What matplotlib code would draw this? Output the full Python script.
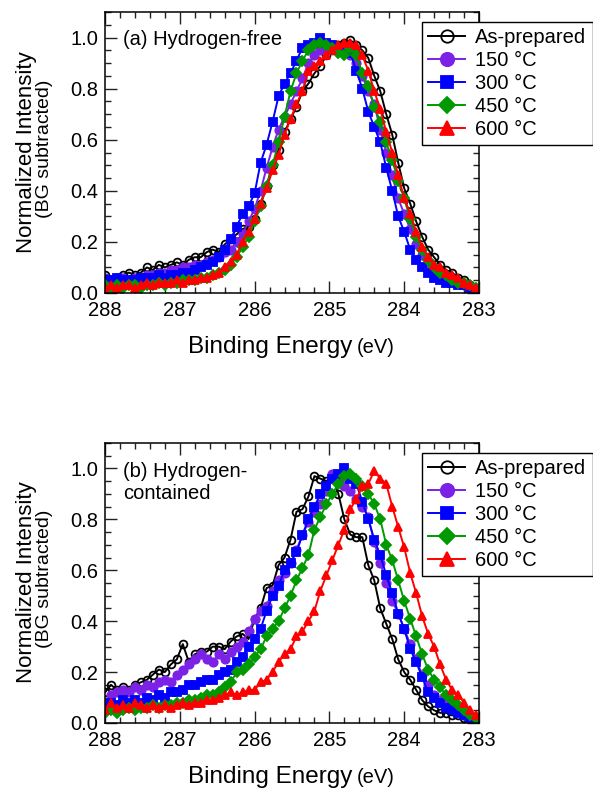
import numpy as np
import matplotlib
matplotlib.use('Agg')
import matplotlib.pyplot as plt
from matplotlib.ticker import MultipleLocator

plt.rcParams['font.family'] = ['Liberation Sans', 'DejaVu Sans']

# ---------------- data ----------------
energy = np.round(np.arange(288.0, 283.0, -0.08), 2)   # binding energy grid (eV), 63 points

labels = ['As-prepared', '150 °C', '300 °C', '450 °C', '600 °C']

# (a) Hydrogen-free
a_asprep = [0.07, 0.05, 0.06, 0.07, 0.08, 0.07, 0.08, 0.10, 0.09, 0.11,
            0.10, 0.11, 0.12, 0.11, 0.13, 0.14, 0.14, 0.16, 0.17, 0.16,
            0.19, 0.21, 0.23, 0.25, 0.26, 0.29, 0.35, 0.42, 0.50, 0.56,
            0.63, 0.68, 0.73, 0.79, 0.82, 0.86, 0.89, 0.93, 0.95, 0.97,
            0.98, 0.99, 0.97, 0.95, 0.92, 0.85, 0.79, 0.70, 0.62, 0.51,
            0.41, 0.35, 0.28, 0.22, 0.17, 0.14, 0.11, 0.09, 0.08, 0.06,
            0.05, 0.03, 0.02]
a_150 = [0.06, 0.05, 0.05, 0.06, 0.05, 0.06, 0.06, 0.07, 0.07, 0.08,
         0.08, 0.09, 0.09, 0.10, 0.10, 0.11, 0.11, 0.12, 0.13, 0.14,
         0.16, 0.17, 0.20, 0.23, 0.28, 0.33, 0.40, 0.49, 0.57, 0.64,
         0.69, 0.74, 0.79, 0.84, 0.90, 0.93, 0.95, 0.96, 0.97, 0.96,
         0.95, 0.93, 0.90, 0.85, 0.79, 0.74, 0.64, 0.55, 0.46, 0.37,
         0.31, 0.25, 0.19, 0.15, 0.11, 0.08, 0.07, 0.06, 0.05, 0.04,
         0.03, 0.02, 0.01]
a_300 = [0.05, 0.05, 0.06, 0.05, 0.05, 0.05, 0.06, 0.06, 0.06, 0.07,
         0.06, 0.07, 0.07, 0.08, 0.08, 0.09, 0.10, 0.11, 0.12, 0.14,
         0.17, 0.21, 0.26, 0.31, 0.34, 0.39, 0.51, 0.58, 0.67, 0.77,
         0.82, 0.86, 0.91, 0.96, 0.97, 0.98, 1.00, 0.98, 0.97, 0.96,
         0.95, 0.94, 0.87, 0.80, 0.71, 0.65, 0.59, 0.49, 0.40, 0.30,
         0.24, 0.17, 0.13, 0.10, 0.08, 0.06, 0.05, 0.04, 0.04, 0.03,
         0.03, 0.02, 0.01]
a_450 = [0.03, 0.02, 0.03, 0.02, 0.03, 0.03, 0.02, 0.03, 0.03, 0.04,
         0.03, 0.04, 0.04, 0.05, 0.05, 0.05, 0.06, 0.06, 0.07, 0.08,
         0.09, 0.11, 0.14, 0.18, 0.22, 0.28, 0.34, 0.42, 0.50, 0.59,
         0.69, 0.79, 0.86, 0.91, 0.95, 0.97, 0.98, 0.97, 0.96, 0.94,
         0.93, 0.96, 0.93, 0.86, 0.81, 0.73, 0.67, 0.59, 0.52, 0.44,
         0.37, 0.29, 0.22, 0.17, 0.13, 0.10, 0.08, 0.07, 0.05, 0.04,
         0.04, 0.03, 0.02]
a_600 = [0.02, 0.03, 0.02, 0.03, 0.03, 0.02, 0.03, 0.04, 0.03, 0.04,
         0.04, 0.04, 0.05, 0.04, 0.05, 0.05, 0.06, 0.06, 0.07, 0.08,
         0.10, 0.12, 0.15, 0.20, 0.24, 0.29, 0.35, 0.41, 0.48, 0.54,
         0.62, 0.68, 0.74, 0.79, 0.87, 0.89, 0.91, 0.93, 0.95, 0.97,
         0.98, 0.98, 0.97, 0.93, 0.87, 0.79, 0.72, 0.63, 0.55, 0.46,
         0.37, 0.31, 0.24, 0.18, 0.14, 0.11, 0.10, 0.08, 0.07, 0.06,
         0.04, 0.03, 0.02]

# (b) Hydrogen-contained
b_asprep = [0.12, 0.15, 0.13, 0.14, 0.13, 0.15, 0.16, 0.17, 0.19, 0.21,
            0.20, 0.23, 0.25, 0.31, 0.24, 0.27, 0.28, 0.28, 0.30, 0.30,
            0.29, 0.32, 0.34, 0.35, 0.33, 0.41, 0.45, 0.53, 0.54, 0.62,
            0.65, 0.72, 0.83, 0.84, 0.89, 0.97, 0.96, 0.95, 0.97, 0.90,
            0.80, 0.74, 0.73, 0.73, 0.62, 0.56, 0.45, 0.39, 0.33, 0.25,
            0.20, 0.17, 0.13, 0.09, 0.065, 0.05, 0.04, 0.04, 0.03, 0.03,
            0.02, 0.02, 0.02]
b_150 = [0.08, 0.11, 0.12, 0.13, 0.12, 0.14, 0.13, 0.15, 0.14, 0.16,
         0.17, 0.16, 0.19, 0.21, 0.23, 0.25, 0.27, 0.25, 0.24, 0.27,
         0.25, 0.28, 0.30, 0.32, 0.36, 0.41, 0.44, 0.46, 0.52, 0.56,
         0.59, 0.63, 0.68, 0.74, 0.79, 0.83, 0.86, 0.91, 0.98, 0.95,
         0.93, 0.91, 0.88, 0.85, 0.81, 0.71, 0.63, 0.55, 0.48, 0.43,
         0.37, 0.31, 0.25, 0.19, 0.15, 0.11, 0.09, 0.07, 0.06, 0.05,
         0.03, 0.02, 0.01]
b_300 = [0.06, 0.08, 0.07, 0.09, 0.08, 0.09, 0.08, 0.10, 0.09, 0.11,
         0.10, 0.12, 0.12, 0.13, 0.15, 0.15, 0.16, 0.17, 0.17, 0.19,
         0.20, 0.21, 0.24, 0.26, 0.30, 0.33, 0.37, 0.44, 0.50, 0.54,
         0.60, 0.63, 0.67, 0.74, 0.80, 0.85, 0.90, 0.93, 0.96, 0.98,
         1.00, 0.96, 0.94, 0.87, 0.80, 0.72, 0.66, 0.58, 0.51, 0.43,
         0.37, 0.29, 0.24, 0.18, 0.12, 0.10, 0.08, 0.06, 0.05, 0.04,
         0.03, 0.02, 0.01]
b_450 = [0.04, 0.05, 0.04, 0.05, 0.06, 0.05, 0.06, 0.06, 0.07, 0.06,
         0.07, 0.07, 0.08, 0.08, 0.09, 0.09, 0.10, 0.11, 0.11, 0.12,
         0.14, 0.16, 0.20, 0.21, 0.23, 0.26, 0.29, 0.34, 0.37, 0.40,
         0.45, 0.50, 0.56, 0.61, 0.66, 0.76, 0.81, 0.86, 0.90, 0.94,
         0.97, 0.98, 0.96, 0.93, 0.90, 0.86, 0.80, 0.70, 0.64, 0.56,
         0.48, 0.41, 0.34, 0.27, 0.21, 0.17, 0.14, 0.11, 0.09, 0.07,
         0.05, 0.03, 0.02]
b_600 = [0.05, 0.08, 0.06, 0.07, 0.06, 0.08, 0.07, 0.06, 0.07, 0.06,
         0.07, 0.06, 0.07, 0.08, 0.07, 0.08, 0.08, 0.09, 0.09, 0.10,
         0.11, 0.12, 0.11, 0.12, 0.13, 0.13, 0.16, 0.17, 0.20, 0.24,
         0.27, 0.29, 0.34, 0.36, 0.40, 0.44, 0.52, 0.58, 0.64, 0.70,
         0.76, 0.84, 0.88, 0.93, 0.94, 0.99, 0.96, 0.94, 0.85, 0.77,
         0.69, 0.59, 0.51, 0.42, 0.35, 0.30, 0.23, 0.17, 0.13, 0.11,
         0.08, 0.05, 0.03]

panel_a = [a_asprep, a_150, a_300, a_450, a_600]
panel_b = [b_asprep, b_150, b_300, b_450, b_600]

# ---------------- style ----------------
colors = ['#000000', '#7b22e6', '#0000ff', '#009a00', '#ff0000']
markers = ['o', 'o', 's', 'D', '^']
msizes = [5.6, 6.0, 5.6, 5.2, 6.4]
faces = ['none', '#7b22e6', '#0000ff', '#009a00', '#ff0000']

W, H = 593, 790
fig = plt.figure(figsize=(W / 100, H / 100), dpi=100)
ax_a = fig.add_axes([105 / W, 1 - 293 / H, 374 / W, 281 / H])
ax_b = fig.add_axes([105 / W, 1 - 723 / H, 374 / W, 280 / H])


def style_axes(ax):
    ax.set_xlim(288, 283)
    ax.set_ylim(0, 1.1)
    ax.xaxis.set_major_locator(MultipleLocator(1))
    ax.xaxis.set_minor_locator(MultipleLocator(0.2))
    ax.yaxis.set_major_locator(MultipleLocator(0.2))
    ax.yaxis.set_minor_locator(MultipleLocator(0.05))
    ax.yaxis.set_major_formatter(matplotlib.ticker.FormatStrFormatter('%.1f'))
    ax.tick_params(which='both', direction='in', top=True, right=True,
                   labelsize=14.5, width=1, color='#222222')
    ax.tick_params(which='major', length=8.5, pad=5)
    ax.tick_params(axis='x', which='major', pad=6)
    ax.tick_params(which='minor', length=4.3)
    for s in ax.spines.values():
        s.set_linewidth(1.1)


for ax, series in ((ax_a, panel_a), (ax_b, panel_b)):
    for y, lab, c, m, ms, fc in zip(series, labels, colors, markers, msizes, faces):
        ax.plot(energy, y, color=c, marker=m, markersize=ms, markerfacecolor=fc,
                markeredgecolor=c, markeredgewidth=1.3, linewidth=1.4, label=lab)
    style_axes(ax)

leg_kw = dict(loc='upper left', bbox_transform=fig.transFigure, borderaxespad=0,
              fontsize=14.5, fancybox=False, framealpha=1, edgecolor='black',
              handlelength=1.85, handletextpad=0.5, labelspacing=0.2,
              borderpad=0.3, markerscale=1.6)
la = ax_a.legend(bbox_to_anchor=(422 / W, 1 - 22 / H), **leg_kw)
lb = ax_b.legend(bbox_to_anchor=(422 / W, 1 - 453 / H), **leg_kw)
for lg in (la, lb):
    lg.get_frame().set_linewidth(1.0)

# panel labels
ax_a.text(0.048, 0.883, '(a) Hydrogen-free', transform=ax_a.transAxes,
          fontsize=14.5, va='baseline', ha='left')
ax_b.text(0.048, 0.88, '(b) Hydrogen-', transform=ax_b.transAxes,
          fontsize=14.5, va='baseline', ha='left')
ax_b.text(0.048, 0.80, 'contained', transform=ax_b.transAxes,
          fontsize=14.5, va='baseline', ha='left')

# axis labels (mixed sizes)
for dy in (0, 430):
    fig.text(352 / W, 1 - (353 + dy) / H, 'Binding Energy', fontsize=17.5,
             ha='right', va='baseline')
    fig.text(357 / W, 1 - (353 + dy) / H, '(eV)', fontsize=14.5,
             ha='left', va='baseline')
    fig.text(26.5 / W, 1 - (152 + dy) / H, 'Normalized Intensity', fontsize=16,
             rotation=90, ha='center', va='center')
    fig.text(44.5 / W, 1 - (149 + dy) / H, '(BG subtracted)', fontsize=14,
             rotation=90, ha='center', va='center')

fig.savefig('out.png', dpi=100)
